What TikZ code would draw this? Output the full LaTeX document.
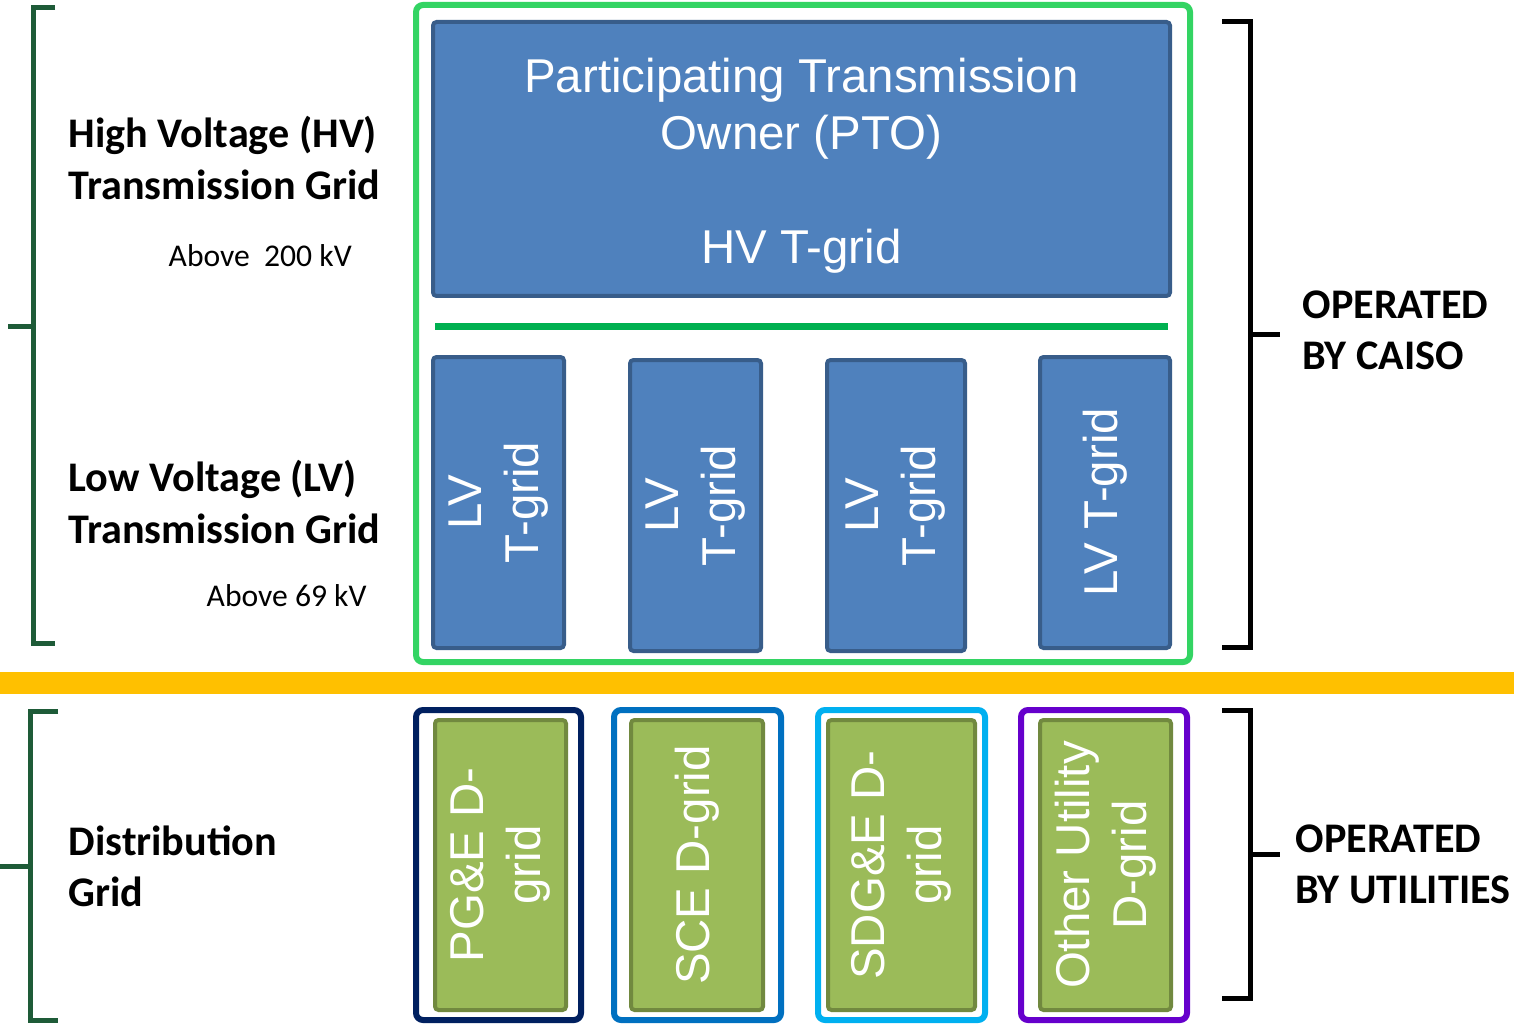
\documentclass[tikz,border=0pt]{standalone}
\usepackage{fontspec}
\setmainfont{Liberation Sans}
\newfontfamily\calibri{Carlito}

\definecolor{hvblue}{HTML}{4F81BD}
\definecolor{hvedge}{HTML}{385D8A}
\definecolor{framegreen}{HTML}{33D463}
\definecolor{linegreen}{HTML}{00B050}
\definecolor{barorange}{HTML}{FFC000}
\definecolor{dgreen}{HTML}{9BBB59}
\definecolor{dedge}{HTML}{71893F}
\definecolor{bracketgreen}{HTML}{1E5B38}
\definecolor{pgenavy}{HTML}{002060}
\definecolor{sceblue}{HTML}{0070C0}
\definecolor{sdgblue}{HTML}{00B0F0}
\definecolor{otherpurple}{HTML}{6600CC}

\begin{document}
\begin{tikzpicture}[x=0.1mm, y=-0.1mm,
    tbox/.style={draw=hvedge, fill=hvblue, line width=0.4mm, rounded corners=1pt,
        text=white, align=center, inner sep=0pt,
        font=\fontsize{13.5}{16.2}\selectfont},
    dbox/.style={tbox, draw=dedge, fill=dgreen},
    dframe/.style={line width=0.6mm, fill=white, rounded corners=2pt, inner sep=0pt,
        minimum width=31mm},
    lbl/.style={font=\calibri\bfseries\fontsize{12}{14.6}\selectfont,
        align=left, anchor=west, inner sep=0pt},
    volt/.style={font=\calibri\fontsize{9}{11}\selectfont, anchor=west, inner sep=0pt},
    brk/.style={line width=0.5mm}
]
    \useasboundingbox (0,0) rectangle (1514,1024);

    % -----------------------------------------------------
    % 1) Zona CAISO: marco verde con la red HV y las redes LV
    % -----------------------------------------------------
    \draw[framegreen, line width=0.6mm, rounded corners=2pt] (416,5) rectangle (1190,662);
    \node[tbox, minimum width=73.7mm, minimum height=27.4mm] (pto) at (801.5,159) {};
    \node[text=white, align=center, inner sep=0pt,
        font=\fontsize{13.5}{16.2}\selectfont] (ptotext) at (801.5,165.5)
        {Participating Transmission\\Owner (PTO)\\ \\HV T-grid};
    \draw[linegreen, line width=0.7mm] (435,326) -- (1168,326);

    % Redes LV (texto girado)
    \node[tbox, rotate=90, minimum width=29.1mm, minimum height=13.1mm] (lva) at (498.5,502.5) {LV\\T-grid};
    \node[tbox, rotate=90, minimum width=29.1mm, minimum height=13.1mm] (lvb) at (695.5,505.5) {LV\\T-grid};
    \node[tbox, rotate=90, minimum width=29.1mm, minimum height=13.8mm] (lvc) at (896,505.5) {LV\\T-grid};
    \node[tbox, rotate=90, minimum width=29.1mm, minimum height=13.0mm] (lvd) at (1105,502.5) {LV T-grid};

    % -----------------------------------------------------
    % 2) Separador naranja
    % -----------------------------------------------------
    \fill[barorange] (0,672) rectangle (1514,694);

    % -----------------------------------------------------
    % 3) Redes de distribucion (marco de color + caja verde)
    % -----------------------------------------------------
    \node[dframe, draw=pgenavy, minimum width=16.5mm, minimum height=31mm] (pgeframe) at (498.5,865) {};
    \node[dbox, rotate=90, minimum width=29mm, minimum height=13.1mm] (pge) at (500.5,865) {PG\&E D-\\grid};

    \node[dframe, draw=sceblue, minimum width=16.7mm, minimum height=31mm] (sceframe) at (697.5,865) {};
    \node[dbox, rotate=90, minimum width=29mm, minimum height=13.2mm] (sce) at (697,865) {SCE D-grid};

    \node[dframe, draw=sdgblue, minimum width=16.7mm, minimum height=31mm] (sdgframe) at (901.5,865) {};
    \node[dbox, rotate=90, minimum width=29mm, minimum height=14.7mm] (sdg) at (901.5,865) {SDG\&E D-\\grid};

    \node[dframe, draw=otherpurple, minimum width=16.6mm, minimum height=31mm] (otherframe) at (1104,865) {};
    \node[dbox, rotate=90, minimum width=29mm, minimum height=13.1mm] (other) at (1105.5,865) {Other Utility\\D-grid};

    % -----------------------------------------------------
    % 4) Corchetes y rotulos de la izquierda
    % -----------------------------------------------------
    \draw[brk, bracketgreen] (55,8) -- (33,8) -- (33,643) -- (55,643);
    \draw[brk, bracketgreen] (8,326) -- (33,326);
    \draw[brk, bracketgreen] (58,711) -- (30,711) -- (30,1020) -- (58,1020);
    \draw[brk, bracketgreen] (0,866) -- (30,866);

    \node[lbl] (hvlabel) at (68,158) {High Voltage (HV)\\Transmission Grid};
    \node[volt] (hvvolt) at (168,256) {Above\ \ 200 kV};
    \node[lbl] (lvlabel) at (68,502) {Low Voltage (LV)\\Transmission Grid};
    \node[volt] (lvvolt) at (206,596) {Above 69 kV};
    \node[lbl] (distlabel) at (68,866) {Distribution\\Grid};

    % -----------------------------------------------------
    % 5) Corchetes y rotulos de la derecha
    % -----------------------------------------------------
    \draw[brk] (1222,22) -- (1250,22) -- (1250,647) -- (1222,647);
    \draw[brk] (1250,334) -- (1280,334);
    \node[lbl] (caisolabel) at (1302,330) {OPERATED\\BY CAISO};

    \draw[brk] (1222,710) -- (1250,710) -- (1250,998) -- (1222,998);
    \draw[brk] (1250,854) -- (1280,854);
    \node[lbl] (utillabel) at (1295,864) {OPERATED\\BY UTILITIES};

\end{tikzpicture}
\end{document}
